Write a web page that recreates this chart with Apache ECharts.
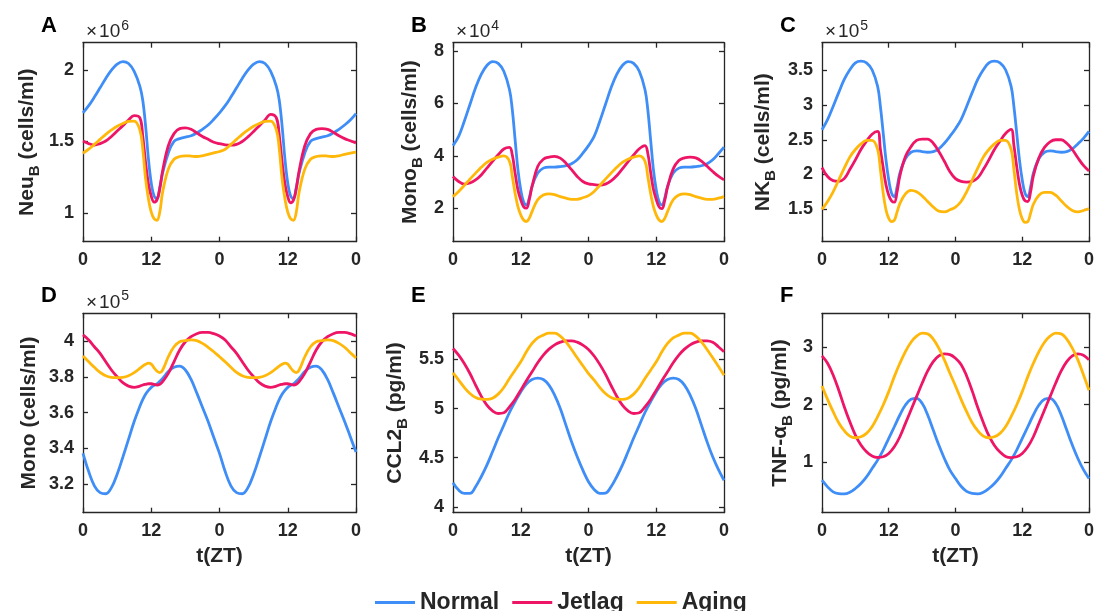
<!DOCTYPE html>
<html><head><meta charset="utf-8">
<script src="https://cdn.jsdelivr.net/npm/echarts@6/dist/echarts.min.js"></script>
<style>html,body{margin:0;padding:0;background:#fff}#c{width:1097px;height:611px}</style>
</head><body><div id="c"></div>
<script>
// ---------- data ----------
const tFine = [0,1,2,3,4,5,6,7,8,9,10,10.5,11,11.5,12,12.5,13,13.5,14,15,16,17,18,19,20,21,22,23,24,
  25,26,27,28,29,30,31,32,33,34,34.5,35,35.5,36,36.5,37,37.5,38,39,40,41,42,43,44,45,46,47,48];
const tHour = [0,1,2,3,4,5,6,7,8,9,10,11,12,13,14,15,16,17,18,19,20,21,22,23,24,
  25,26,27,28,29,30,31,32,33,34,35,36,37,38,39,40,41,42,43,44,45,46,47,48];
const xTickLabels = ['0','12','0','12','0'];
const seriesNames = ['Normal','Jetlag','Aging'];

// A: Neu_B (x1e6 cells/ml)
const neuNormal = [1.70,1.75,1.81,1.875,1.94,1.998,2.04,2.058,2.045,1.99,1.885,1.79,1.61,1.38,1.21,1.12,1.10,1.18,1.28,1.42,1.50,1.52,1.53,1.54,1.56,1.585,1.615,1.655,1.70,
  1.75,1.81,1.875,1.94,1.998,2.04,2.058,2.045,1.99,1.885,1.79,1.61,1.38,1.21,1.12,1.10,1.18,1.28,1.42,1.50,1.52,1.53,1.54,1.56,1.585,1.615,1.65,1.695];
const neuJetlag = [1.503,1.485,1.475,1.485,1.503,1.535,1.573,1.61,1.65,1.68,1.665,1.54,1.355,1.205,1.118,1.076,1.092,1.17,1.295,1.47,1.555,1.59,1.595,1.585,1.56,1.535,1.515,1.495,1.485,
  1.477,1.474,1.48,1.50,1.532,1.57,1.61,1.65,1.69,1.665,1.545,1.36,1.205,1.115,1.072,1.09,1.17,1.295,1.47,1.555,1.585,1.59,1.585,1.565,1.54,1.52,1.505,1.49];
const neuAging = [1.418,1.446,1.48,1.515,1.55,1.58,1.607,1.626,1.64,1.642,1.58,1.45,1.24,1.10,1.007,0.96,0.95,1.007,1.145,1.307,1.376,1.395,1.40,1.398,1.395,1.40,1.41,1.42,1.43,
  1.446,1.48,1.515,1.55,1.58,1.607,1.626,1.64,1.642,1.58,1.45,1.24,1.10,1.007,0.96,0.95,1.007,1.145,1.307,1.376,1.395,1.40,1.398,1.395,1.40,1.41,1.418,1.425];

// B: Mono_B (x1e4 cells/ml)
const monoBNormal = [4.39,4.74,5.32,5.96,6.60,7.11,7.45,7.60,7.53,7.23,6.53,5.77,4.62,3.47,2.70,2.25,2.13,2.38,2.83,3.34,3.53,3.57,3.57,3.59,3.62,3.70,3.85,4.10,4.39,
  4.74,5.32,5.96,6.60,7.11,7.45,7.60,7.53,7.23,6.53,5.77,4.62,3.47,2.70,2.25,2.13,2.38,2.83,3.34,3.53,3.57,3.57,3.59,3.62,3.70,3.85,4.08,4.33];
const monoBJetlag = [3.21,3.02,2.92,2.96,3.08,3.27,3.53,3.79,4.04,4.26,4.32,4.04,3.34,2.70,2.32,2.06,2.00,2.32,2.83,3.59,3.87,3.95,3.98,3.91,3.72,3.47,3.21,3.02,2.93,
  2.90,2.88,2.92,3.04,3.24,3.50,3.77,4.03,4.27,4.39,4.10,3.38,2.72,2.33,2.05,1.98,2.30,2.80,3.50,3.82,3.92,3.95,3.92,3.80,3.60,3.40,3.22,3.08];
const monoBAging = [2.44,2.64,2.87,3.11,3.34,3.56,3.75,3.87,3.95,4.00,3.79,3.21,2.57,2.06,1.74,1.55,1.49,1.61,1.87,2.32,2.50,2.55,2.52,2.44,2.38,2.34,2.34,2.40,2.48,
  2.64,2.87,3.11,3.34,3.56,3.75,3.87,3.95,4.00,3.79,3.21,2.57,2.06,1.74,1.55,1.49,1.61,1.87,2.32,2.50,2.55,2.52,2.44,2.38,2.34,2.34,2.38,2.44];

// C: NK_B (x1e5 cells/ml)
const nkNormal = [2.645,2.79,2.98,3.18,3.37,3.51,3.61,3.635,3.61,3.51,3.27,2.98,2.60,2.21,1.92,1.73,1.68,1.82,2.02,2.23,2.32,2.34,2.33,2.32,2.33,2.37,2.45,2.55,2.66,
  2.79,2.98,3.18,3.37,3.51,3.61,3.635,3.61,3.51,3.27,2.98,2.60,2.21,1.92,1.73,1.68,1.82,2.02,2.23,2.32,2.34,2.33,2.32,2.33,2.37,2.44,2.52,2.62];
const nkJetlag = [2.10,1.97,1.91,1.90,1.94,2.07,2.21,2.36,2.48,2.58,2.62,2.36,2.10,1.85,1.70,1.62,1.60,1.75,1.98,2.26,2.40,2.49,2.51,2.51,2.45,2.33,2.19,2.04,1.94,
  1.90,1.89,1.90,1.95,2.07,2.21,2.36,2.48,2.59,2.65,2.42,2.12,1.86,1.70,1.62,1.61,1.75,1.98,2.24,2.39,2.47,2.50,2.50,2.45,2.36,2.24,2.13,2.05];
const nkAging = [1.495,1.61,1.75,1.92,2.09,2.25,2.36,2.44,2.49,2.49,2.36,2.07,1.73,1.49,1.365,1.32,1.34,1.46,1.58,1.72,1.77,1.75,1.69,1.61,1.53,1.47,1.46,1.49,1.53,
  1.61,1.75,1.92,2.09,2.25,2.36,2.44,2.49,2.49,2.36,2.07,1.73,1.49,1.36,1.31,1.32,1.44,1.57,1.70,1.74,1.74,1.70,1.62,1.54,1.48,1.46,1.48,1.51];

// D: Mono (x1e5 cells/ml)
const monoNormal = [3.372,3.27,3.19,3.152,3.146,3.18,3.255,3.35,3.45,3.55,3.635,3.672,3.702,3.724,3.741,3.752,3.76,3.775,3.791,3.829,3.853,3.86,3.838,3.785,3.71,3.63,3.55,3.46,3.372,
  3.27,3.19,3.152,3.146,3.18,3.255,3.35,3.45,3.55,3.635,3.672,3.702,3.724,3.741,3.752,3.76,3.775,3.791,3.829,3.853,3.86,3.838,3.785,3.71,3.63,3.55,3.465,3.38];
const monoJetlag = [4.034,4.006,3.968,3.931,3.884,3.838,3.80,3.767,3.748,3.741,3.748,3.754,3.758,3.761,3.761,3.758,3.754,3.758,3.773,3.819,3.884,3.95,3.996,4.024,4.041,4.048,4.048,4.041,4.028,
  4.006,3.968,3.931,3.884,3.838,3.80,3.767,3.748,3.741,3.748,3.754,3.758,3.761,3.761,3.758,3.754,3.758,3.773,3.819,3.884,3.95,3.996,4.024,4.041,4.048,4.048,4.041,4.028];
const monoAging = [3.916,3.884,3.853,3.825,3.806,3.797,3.795,3.797,3.806,3.823,3.847,3.86,3.87,3.876,3.871,3.85,3.832,3.823,3.838,3.912,3.968,3.996,4.002,4.006,4.002,3.987,3.965,3.94,3.912,
  3.884,3.853,3.825,3.806,3.797,3.795,3.797,3.806,3.823,3.847,3.86,3.87,3.876,3.871,3.85,3.832,3.823,3.838,3.912,3.968,3.996,4.002,4.006,4.002,3.987,3.965,3.935,3.905];

// E: CCL2_B (pg/ml)
const ccl2Normal = [4.245,4.17,4.136,4.136,4.204,4.306,4.424,4.56,4.70,4.83,4.96,5.07,5.17,5.25,5.296,5.31,5.296,5.239,5.137,5.001,4.832,4.662,4.509,4.373,4.255,
  4.177,4.136,4.14,4.204,4.306,4.424,4.56,4.70,4.83,4.96,5.07,5.17,5.25,5.296,5.31,5.296,5.239,5.137,5.001,4.832,4.662,4.509,4.38,4.27];
const ccl2Jetlag = [5.612,5.544,5.459,5.357,5.239,5.127,5.035,4.977,4.95,4.957,5.018,5.093,5.188,5.283,5.374,5.466,5.544,5.605,5.649,5.676,5.69,5.69,5.676,5.646,5.602,
  5.535,5.45,5.35,5.235,5.125,5.035,4.977,4.95,4.957,5.018,5.093,5.188,5.283,5.374,5.466,5.544,5.605,5.649,5.676,5.69,5.69,5.676,5.63,5.578];
const ccl2Aging = [5.364,5.29,5.215,5.154,5.113,5.096,5.093,5.106,5.147,5.215,5.307,5.391,5.476,5.578,5.663,5.72,5.748,5.768,5.768,5.738,5.68,5.602,5.517,5.436,5.357,
  5.29,5.215,5.154,5.113,5.096,5.093,5.106,5.147,5.215,5.307,5.391,5.476,5.578,5.663,5.72,5.748,5.768,5.768,5.738,5.68,5.602,5.517,5.43,5.34];

// F: TNF-alpha_B (pg/ml)
const tnfNormal = [0.686,0.57,0.483,0.453,0.448,0.477,0.541,0.628,0.744,0.89,1.035,1.21,1.413,1.616,1.82,1.994,2.093,2.11,2.023,1.82,1.558,1.297,1.064,0.86,0.715,
  0.58,0.49,0.455,0.448,0.477,0.541,0.628,0.744,0.89,1.035,1.21,1.413,1.616,1.82,1.994,2.093,2.11,2.023,1.82,1.558,1.297,1.064,0.87,0.715];
const tnfJetlag = [2.849,2.721,2.517,2.256,1.965,1.703,1.471,1.297,1.18,1.105,1.081,1.093,1.151,1.267,1.442,1.674,1.907,2.14,2.372,2.587,2.75,2.849,2.884,2.872,2.808,
  2.70,2.50,2.24,1.95,1.69,1.46,1.29,1.175,1.10,1.08,1.093,1.151,1.267,1.442,1.674,1.907,2.14,2.372,2.587,2.75,2.849,2.884,2.86,2.78];
const tnfAging = [2.326,2.093,1.878,1.686,1.547,1.453,1.424,1.442,1.50,1.616,1.791,1.994,2.227,2.488,2.721,2.924,3.087,3.192,3.244,3.233,3.14,2.983,2.779,2.547,2.326,
  2.093,1.878,1.686,1.547,1.453,1.424,1.442,1.50,1.616,1.791,1.994,2.227,2.488,2.721,2.924,3.087,3.192,3.244,3.233,3.14,2.983,2.779,2.52,2.25];

// y-axis tick values
const ticksA = [1, 1.5, 2];
const ticksB = [2, 4, 6, 8];
const ticksC = [1.5, 2, 2.5, 3, 3.5];
const ticksD = [3.2, 3.4, 3.6, 3.8, 4];
const ticksE = [4, 4.5, 5, 5.5];
const ticksF = [1, 2, 3];

// ---------- styling / layout ----------
const COLORS = ['#3f8ef7', '#ee1566', '#ffb80a'];
const AX = '#262626';
const FONT = '"Liberation Sans", Arial, Helvetica, sans-serif';

const panels = [
  {letter:'A', exp:'6', t:tFine, d:[neuNormal, neuJetlag, neuAging], min:0.80, max:2.19, ticks:ticksA,
   name:'{m|Neu}{s|B}{m| (cells/ml)}', gap:41, grid:[83,42.7,273,199]},
  {letter:'B', exp:'4', t:tFine, d:[monoBNormal, monoBJetlag, monoBAging], min:0.72, max:8.32, ticks:ticksB,
   name:'{m|Mono}{s|B}{m| (cells/ml)}', gap:28, grid:[453,42.7,271,199]},
  {letter:'C', exp:'5', t:tFine, d:[nkNormal, nkJetlag, nkAging], min:1.03, max:3.90, ticks:ticksC,
   name:'{m|NK}{s|B}{m| (cells/ml)}', gap:44, grid:[822,42.7,271,199]},
  {letter:'D', exp:'5', t:tFine, d:[monoNormal, monoJetlag, monoAging], min:3.04, max:4.155, ticks:ticksD,
   name:'{m|Mono (cells/ml)}', gap:43, grid:[83,313.3,273,199.4]},
  {letter:'E', exp:null, t:tHour, d:[ccl2Normal, ccl2Jetlag, ccl2Aging], min:3.94, max:5.97, ticks:ticksE,
   name:'{m|CCL2}{s|B}{m| (pg/ml)}', gap:43, grid:[453,313.3,271,199.4]},
  {letter:'F', exp:null, t:tHour, d:[tnfNormal, tnfJetlag, tnfAging], min:0.12, max:3.59, ticks:ticksF,
   name:'{m|TNF-α}{s|B}{m| (pg/ml)}', gap:27, grid:[822,313.3,271,199.4]}
];

const lineAx = {onZero:false, lineStyle:{color:AX, width:1.3}};
const tickAx = {inside:true, length:5, lineStyle:{color:AX, width:1.3}};
const labelStyle = {color:AX, fontSize:18, fontWeight:'bold', fontFamily:FONT};
const nameRich = {
  m:{fontSize:21, fontWeight:'bold', color:AX, fontFamily:FONT},
  s:{fontSize:15, fontWeight:'bold', color:AX, fontFamily:FONT, padding:[14,0,0,0]}
};

const grid = [], xAxis = [], yAxis = [], series = [], title = [];
panels.forEach((p, i) => {
  grid.push({left:p.grid[0], top:p.grid[1], width:p.grid[2], height:p.grid[3]});
  const bottomRow = i >= 3;
  xAxis.push({
    type:'value', gridIndex:i, min:0, max:48, interval:12, position:'bottom',
    axisLine:lineAx, axisTick:tickAx, splitLine:{show:false},
    axisLabel:Object.assign({margin:9, formatter:v => xTickLabels[Math.round(v/12)]}, labelStyle),
    name: bottomRow ? 't(ZT)' : '', nameLocation:'middle', nameGap:33,
    nameTextStyle:{fontSize:21, fontWeight:'bold', color:AX, fontFamily:FONT}
  });
  xAxis.push({
    type:'value', gridIndex:i, min:0, max:48, interval:12, position:'top',
    axisLine:lineAx, axisTick:tickAx, axisLabel:{show:false}, splitLine:{show:false}
  });
  yAxis.push({
    type:'value', gridIndex:i, min:p.min, max:p.max, position:'left',
    axisLine:Object.assign({show:true}, lineAx),
    axisTick:Object.assign({show:true, customValues:p.ticks}, tickAx),
    axisLabel:Object.assign({margin:9, customValues:p.ticks}, labelStyle),
    splitLine:{show:false},
    name:p.name, nameLocation:'middle', nameGap:p.gap, nameRotate:90,
    nameTextStyle:{rich:nameRich, fontSize:21, fontWeight:'bold', color:AX, fontFamily:FONT}
  });
  yAxis.push({
    type:'value', gridIndex:i, min:p.min, max:p.max, position:'right',
    axisLine:Object.assign({show:true}, lineAx),
    axisTick:Object.assign({show:true, customValues:p.ticks}, tickAx),
    axisLabel:{show:false}, splitLine:{show:false}
  });
  p.d.forEach((arr, k) => {
    series.push({
      name:seriesNames[k], type:'line', xAxisIndex:2*i, yAxisIndex:2*i,
      data:p.t.map((x, j) => [x, arr[j]]),
      smooth:0.4, showSymbol:false, symbol:'none',
      lineStyle:{color:COLORS[k], width:2.8}, itemStyle:{color:COLORS[k]},
      z:2 + k, animation:false
    });
  });
  const lx = p.grid[0] - 42, ly = p.grid[1] - 28;
  title.push({text:p.letter, left:lx, top:ly, padding:0,
    textStyle:{fontSize:22, fontWeight:'bold', color:'#000', fontFamily:FONT}});
  if (p.exp) {
    title.push({text:'{x|×}{a|10}{b|' + p.exp + '}', left:p.grid[0] + 3, top:ly + 4, padding:0,
      textStyle:{fontWeight:'normal', rich:{
        x:{fontSize:19, fontWeight:'normal', color:AX, fontFamily:FONT, padding:[0,2,0,0]},
        a:{fontSize:19, fontWeight:'normal', color:AX, fontFamily:FONT},
        b:{fontSize:14, fontWeight:'normal', color:AX, fontFamily:FONT, padding:[0,0,13,1]}
      }}});
  }
});

const chart = echarts.init(document.getElementById('c'), null, {renderer:'canvas'});
chart.setOption({
  animation:false,
  backgroundColor:'#fff',
  title, grid, xAxis, yAxis, series,
  legend:{
    data:seriesNames, left:375, top:591, padding:0,
    icon:'rect', itemWidth:40, itemHeight:3, itemGap:13,
    textStyle:{fontSize:23, fontWeight:'bold', color:AX, fontFamily:FONT}
  }
});
</script>
</body></html>
